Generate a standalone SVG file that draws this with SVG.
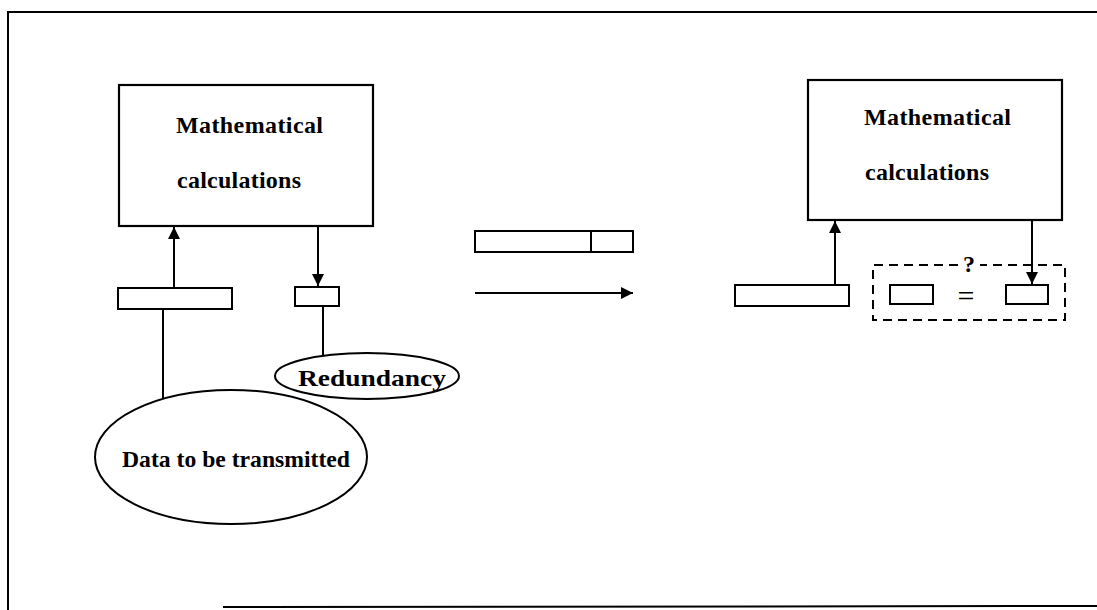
<svg xmlns="http://www.w3.org/2000/svg" width="1097" height="610" viewBox="0 0 1097 610">
<style>
.box{fill:#fff;stroke:#000;stroke-width:2.2}
.thin{fill:#fff;stroke:#000;stroke-width:2}
.ln{stroke:#000;stroke-width:2;fill:none}
.dash{fill:none;stroke:#000;stroke-width:2;stroke-dasharray:9,6}
.t{font-family:"Liberation Serif","Times New Roman",serif;font-weight:bold;font-size:24px;fill:#000}
</style>
<defs>
<marker id="ah" viewBox="0 0 10 10" refX="10" refY="5" markerWidth="12" markerHeight="12" markerUnits="userSpaceOnUse" orient="auto">
<path d="M0,0 L10,5 L0,10 z" fill="#000"/>
</marker>
</defs>
<rect width="1097" height="610" fill="#fff"/>
<g id="frame">
<path class="ln" d="M8,610 L8,12 L1097,12" stroke-width="1.6"/>
<path class="ln" d="M223,607 L1097,606" stroke-width="1.6"/>
</g>
<g id="connectors">
<line class="ln" x1="174" y1="288" x2="174" y2="227" marker-end="url(#ah)"/>
<line class="ln" x1="318" y1="226" x2="318" y2="286" marker-end="url(#ah)"/>
<line class="ln" x1="163" y1="297" x2="163" y2="412"/>
<line class="ln" x1="323" y1="296" x2="323" y2="358"/>
<line class="ln" x1="475" y1="293" x2="633" y2="293" marker-end="url(#ah)"/>
<line class="ln" x1="835" y1="285" x2="835" y2="221" marker-end="url(#ah)"/>
<line class="ln" x1="1032" y1="220" x2="1032" y2="284" marker-end="url(#ah)"/>
</g>
<g id="calc-left">
<rect class="box" x="119" y="85" width="254" height="141"/>
<text class="t" x="176" y="133" textLength="147">Mathematical</text>
<text class="t" x="177" y="188" textLength="124">calculations</text>
</g>
<g id="data-block-left">
<rect class="thin" x="118" y="288" width="114" height="21"/>
</g>
<g id="redundancy-block-left">
<rect class="thin" x="295" y="287" width="44" height="19"/>
</g>
<g id="redundancy">
<ellipse class="thin" cx="367" cy="376" rx="92" ry="23" fill="none"/>
<text class="t" x="298" y="386" font-size="26" textLength="148" lengthAdjust="spacingAndGlyphs">Redundancy</text>
</g>
<g id="data">
<ellipse class="thin" cx="231" cy="457" rx="136" ry="67" fill="none"/>
<text class="t" x="122" y="467" font-size="25" textLength="228" lengthAdjust="spacingAndGlyphs">Data to be transmitted</text>
</g>
<g id="frame-block">
<rect class="thin" x="475" y="231" width="158" height="21"/>
<line class="ln" x1="591" y1="231" x2="591" y2="252"/>
</g>
<g id="calc-right">
<rect class="box" x="808" y="80" width="254" height="140"/>
<text class="t" x="864" y="125" textLength="147">Mathematical</text>
<text class="t" x="865" y="180" textLength="124">calculations</text>
</g>
<g id="data-block-right">
<rect class="thin" x="735" y="285" width="114" height="21"/>
</g>
<g id="comparison">
<path class="dash" d="M958,265 L873,265 L873,320 L1065,320 L1065,265 L980,265"/>
<text class="t" x="969" y="272" font-size="21" text-anchor="middle">?</text>
<rect class="thin" x="890" y="285" width="43" height="19"/>
<text x="966" y="306" font-family="Liberation Serif, serif" font-size="30" text-anchor="middle">=</text>
<rect class="thin" x="1006" y="285" width="42" height="19"/>
</g>
</svg>
